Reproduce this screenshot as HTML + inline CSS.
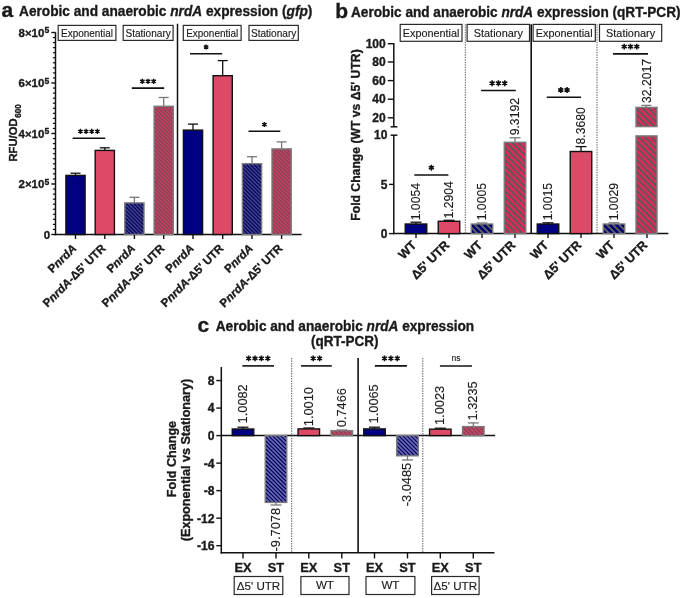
<!DOCTYPE html><html><head><meta charset="utf-8"><style>html,body{margin:0;padding:0;background:#fff;}svg{display:block;font-family:"Liberation Sans",sans-serif;} text{filter:grayscale(1);} text[font-weight=bold]{stroke:#1a1a1a;stroke-width:0.35;} text[font-weight=normal],text:not([font-weight]){stroke:#1a1a1a;stroke-width:0.15;}</style></head><body>
<svg width="685" height="598" viewBox="0 0 685 598">
<defs>
<pattern id="hnA" patternUnits="userSpaceOnUse" width="1.85" height="1.85" patternTransform="rotate(-45)"><rect width="1.85" height="1.85" fill="#00005c"/><rect x="0" y="0" width="0.85" height="1.85" fill="#55558f"/></pattern>
<pattern id="hpA" patternUnits="userSpaceOnUse" width="1.85" height="1.85" patternTransform="rotate(-45)"><rect width="1.85" height="1.85" fill="#D04666"/><rect x="0" y="0" width="0.85" height="1.85" fill="#9a3855"/></pattern>
<pattern id="hnB" patternUnits="userSpaceOnUse" width="4.4" height="4.4" patternTransform="rotate(-45)"><rect width="4.4" height="4.4" fill="#000080"/><rect x="0" y="0" width="1.7" height="4.4" fill="#6e6e6e"/></pattern>
<pattern id="hpB" patternUnits="userSpaceOnUse" width="4.4" height="4.4" patternTransform="rotate(-45)"><rect width="4.4" height="4.4" fill="#DA2C58"/><rect x="0" y="0" width="1.7" height="4.4" fill="#5e5e5e"/></pattern>
<pattern id="hnC" patternUnits="userSpaceOnUse" width="2.0" height="2.0" patternTransform="rotate(-45)"><rect width="2.0" height="2.0" fill="#00005c"/><rect x="0" y="0" width="0.9" height="2.0" fill="#6a6ab0"/></pattern>
<pattern id="hpC" patternUnits="userSpaceOnUse" width="1.85" height="1.85" patternTransform="rotate(-45)"><rect width="1.85" height="1.85" fill="#D04666"/><rect x="0" y="0" width="0.85" height="1.85" fill="#9a3855"/></pattern>
</defs>
<rect width="685" height="598" fill="#fff"/>
<text x="1.5" y="17.2" font-size="21" font-weight="bold" text-anchor="start" fill="#1a1a1a" >a</text>
<text x="19" y="16.4" font-size="14.6" font-weight="bold" fill="#1a1a1a" textLength="293.4" lengthAdjust="spacingAndGlyphs">Aerobic and anaerobic <tspan font-style="italic">nrdA</tspan> expression (<tspan font-style="italic">gfp</tspan>)</text>
<line x1="55.5" y1="32.3" x2="55.5" y2="235.25" stroke="#111" stroke-width="1.5" />
<line x1="54.75" y1="234.5" x2="301.6" y2="234.5" stroke="#111" stroke-width="1.5" />
<line x1="51.3" y1="234.5" x2="55.5" y2="234.5" stroke="#111" stroke-width="1.4" />
<line x1="52.9" y1="229.45" x2="55.5" y2="229.45" stroke="#111" stroke-width="1.2" />
<line x1="52.9" y1="224.4" x2="55.5" y2="224.4" stroke="#111" stroke-width="1.2" />
<line x1="52.9" y1="219.35" x2="55.5" y2="219.35" stroke="#111" stroke-width="1.2" />
<line x1="52.9" y1="214.3" x2="55.5" y2="214.3" stroke="#111" stroke-width="1.2" />
<line x1="52.9" y1="209.25" x2="55.5" y2="209.25" stroke="#111" stroke-width="1.2" />
<line x1="52.9" y1="204.2" x2="55.5" y2="204.2" stroke="#111" stroke-width="1.2" />
<line x1="52.9" y1="199.15" x2="55.5" y2="199.15" stroke="#111" stroke-width="1.2" />
<line x1="52.9" y1="194.1" x2="55.5" y2="194.1" stroke="#111" stroke-width="1.2" />
<line x1="52.9" y1="189.05" x2="55.5" y2="189.05" stroke="#111" stroke-width="1.2" />
<line x1="51.3" y1="184.0" x2="55.5" y2="184.0" stroke="#111" stroke-width="1.4" />
<line x1="52.9" y1="178.95" x2="55.5" y2="178.95" stroke="#111" stroke-width="1.2" />
<line x1="52.9" y1="173.9" x2="55.5" y2="173.9" stroke="#111" stroke-width="1.2" />
<line x1="52.9" y1="168.85" x2="55.5" y2="168.85" stroke="#111" stroke-width="1.2" />
<line x1="52.9" y1="163.8" x2="55.5" y2="163.8" stroke="#111" stroke-width="1.2" />
<line x1="52.9" y1="158.75" x2="55.5" y2="158.75" stroke="#111" stroke-width="1.2" />
<line x1="52.9" y1="153.7" x2="55.5" y2="153.7" stroke="#111" stroke-width="1.2" />
<line x1="52.9" y1="148.65" x2="55.5" y2="148.65" stroke="#111" stroke-width="1.2" />
<line x1="52.9" y1="143.6" x2="55.5" y2="143.6" stroke="#111" stroke-width="1.2" />
<line x1="52.9" y1="138.55" x2="55.5" y2="138.55" stroke="#111" stroke-width="1.2" />
<line x1="51.3" y1="133.5" x2="55.5" y2="133.5" stroke="#111" stroke-width="1.4" />
<line x1="52.9" y1="128.45" x2="55.5" y2="128.45" stroke="#111" stroke-width="1.2" />
<line x1="52.9" y1="123.4" x2="55.5" y2="123.4" stroke="#111" stroke-width="1.2" />
<line x1="52.9" y1="118.35" x2="55.5" y2="118.35" stroke="#111" stroke-width="1.2" />
<line x1="52.9" y1="113.3" x2="55.5" y2="113.3" stroke="#111" stroke-width="1.2" />
<line x1="52.9" y1="108.25" x2="55.5" y2="108.25" stroke="#111" stroke-width="1.2" />
<line x1="52.9" y1="103.19999999999999" x2="55.5" y2="103.19999999999999" stroke="#111" stroke-width="1.2" />
<line x1="52.9" y1="98.15" x2="55.5" y2="98.15" stroke="#111" stroke-width="1.2" />
<line x1="52.9" y1="93.1" x2="55.5" y2="93.1" stroke="#111" stroke-width="1.2" />
<line x1="52.9" y1="88.05000000000001" x2="55.5" y2="88.05000000000001" stroke="#111" stroke-width="1.2" />
<line x1="51.3" y1="83.0" x2="55.5" y2="83.0" stroke="#111" stroke-width="1.4" />
<line x1="52.9" y1="77.94999999999999" x2="55.5" y2="77.94999999999999" stroke="#111" stroke-width="1.2" />
<line x1="52.9" y1="72.9" x2="55.5" y2="72.9" stroke="#111" stroke-width="1.2" />
<line x1="52.9" y1="67.85" x2="55.5" y2="67.85" stroke="#111" stroke-width="1.2" />
<line x1="52.9" y1="62.80000000000001" x2="55.5" y2="62.80000000000001" stroke="#111" stroke-width="1.2" />
<line x1="52.9" y1="57.75" x2="55.5" y2="57.75" stroke="#111" stroke-width="1.2" />
<line x1="52.9" y1="52.69999999999999" x2="55.5" y2="52.69999999999999" stroke="#111" stroke-width="1.2" />
<line x1="52.9" y1="47.650000000000006" x2="55.5" y2="47.650000000000006" stroke="#111" stroke-width="1.2" />
<line x1="52.9" y1="42.599999999999994" x2="55.5" y2="42.599999999999994" stroke="#111" stroke-width="1.2" />
<line x1="52.9" y1="37.55000000000001" x2="55.5" y2="37.55000000000001" stroke="#111" stroke-width="1.2" />
<line x1="51.3" y1="32.5" x2="55.5" y2="32.5" stroke="#111" stroke-width="1.4" />
<text x="50.2" y="238.8" font-size="11.5" font-weight="bold" text-anchor="end" fill="#1a1a1a" >0</text>
<text x="18.6" y="188.4" font-size="11.5" font-weight="bold" text-anchor="start" fill="#1a1a1a" textLength="25.7" lengthAdjust="spacingAndGlyphs">2×10</text>
<text x="44.6" y="184.6" font-size="8.6" font-weight="bold" text-anchor="start" fill="#1a1a1a" >5</text>
<text x="18.6" y="137.9" font-size="11.5" font-weight="bold" text-anchor="start" fill="#1a1a1a" textLength="25.7" lengthAdjust="spacingAndGlyphs">4×10</text>
<text x="44.6" y="134.1" font-size="8.6" font-weight="bold" text-anchor="start" fill="#1a1a1a" >5</text>
<text x="18.6" y="87.4" font-size="11.5" font-weight="bold" text-anchor="start" fill="#1a1a1a" textLength="25.7" lengthAdjust="spacingAndGlyphs">6×10</text>
<text x="44.6" y="83.6" font-size="8.6" font-weight="bold" text-anchor="start" fill="#1a1a1a" >5</text>
<text x="18.6" y="36.9" font-size="11.5" font-weight="bold" text-anchor="start" fill="#1a1a1a" textLength="25.7" lengthAdjust="spacingAndGlyphs">8×10</text>
<text x="44.6" y="33.1" font-size="8.6" font-weight="bold" text-anchor="start" fill="#1a1a1a" >5</text>
<text x="16.9" y="161.5" font-size="10.9" font-weight="bold" fill="#1a1a1a" transform="rotate(-90 16.9 161.5)" textLength="43.0" lengthAdjust="spacingAndGlyphs">RFU/OD</text>
<text x="20.6" y="117.8" font-size="9" font-weight="bold" fill="#1a1a1a" transform="rotate(-90 20.6 117.8)" textLength="13.6" lengthAdjust="spacingAndGlyphs">600</text>
<line x1="75.5" y1="234.5" x2="75.5" y2="239.0" stroke="#111" stroke-width="1.4" />
<line x1="104.8" y1="234.5" x2="104.8" y2="239.0" stroke="#111" stroke-width="1.4" />
<line x1="134.4" y1="234.5" x2="134.4" y2="239.0" stroke="#111" stroke-width="1.4" />
<line x1="163.7" y1="234.5" x2="163.7" y2="239.0" stroke="#111" stroke-width="1.4" />
<line x1="193" y1="234.5" x2="193" y2="239.0" stroke="#111" stroke-width="1.4" />
<line x1="222.7" y1="234.5" x2="222.7" y2="239.0" stroke="#111" stroke-width="1.4" />
<line x1="252" y1="234.5" x2="252" y2="239.0" stroke="#111" stroke-width="1.4" />
<line x1="281.6" y1="234.5" x2="281.6" y2="239.0" stroke="#111" stroke-width="1.4" />
<line x1="75.5" y1="175.4" x2="75.5" y2="173.2" stroke="#111" stroke-width="1.3" />
<line x1="70.5" y1="173.2" x2="80.5" y2="173.2" stroke="#111" stroke-width="1.3" />
<rect x="65.9" y="175.4" width="19.2" height="59.099999999999994" fill="#000080" stroke="#111" stroke-width="1.4"/>
<line x1="104.8" y1="150.4" x2="104.8" y2="147.8" stroke="#111" stroke-width="1.3" />
<line x1="99.8" y1="147.8" x2="109.8" y2="147.8" stroke="#111" stroke-width="1.3" />
<rect x="95.2" y="150.4" width="19.2" height="84.1" fill="#DD4A68" stroke="#111" stroke-width="1.4"/>
<line x1="134.4" y1="202.9" x2="134.4" y2="197.3" stroke="#777" stroke-width="1.3" />
<line x1="129.4" y1="197.3" x2="139.4" y2="197.3" stroke="#777" stroke-width="1.3" />
<clipPath id="cl1"><rect x="124.80000000000001" y="202.9" width="19.2" height="31.599999999999994"/></clipPath>
<rect x="124.80000000000001" y="202.9" width="19.2" height="31.599999999999994" fill="#00005c"/>
<path d="M89.40 202.90L121.00 234.50M93.20 202.90L124.80 234.50M97.00 202.90L128.60 234.50M100.80 202.90L132.40 234.50M104.60 202.90L136.20 234.50M108.40 202.90L140.00 234.50M112.20 202.90L143.80 234.50M116.00 202.90L147.60 234.50M119.80 202.90L151.40 234.50M123.60 202.90L155.20 234.50M127.40 202.90L159.00 234.50M131.20 202.90L162.80 234.50M135.00 202.90L166.60 234.50M138.80 202.90L170.40 234.50M142.60 202.90L174.20 234.50M146.40 202.90L178.00 234.50" stroke="#3e3e86" stroke-width="1.6" clip-path="url(#cl1)"/>
<rect x="124.80000000000001" y="202.9" width="19.2" height="31.599999999999994" fill="none" stroke="#7a7a7a" stroke-width="1.4"/>
<line x1="163.7" y1="106.3" x2="163.7" y2="97.5" stroke="#777" stroke-width="1.3" />
<line x1="158.7" y1="97.5" x2="168.7" y2="97.5" stroke="#777" stroke-width="1.3" />
<clipPath id="cl2"><rect x="154.1" y="106.3" width="19.2" height="128.2"/></clipPath>
<rect x="154.1" y="106.3" width="19.2" height="128.2" fill="#CB4464"/>
<path d="M22.05 106.30L150.25 234.50M25.90 106.30L154.10 234.50M29.75 106.30L157.95 234.50M33.60 106.30L161.80 234.50M37.45 106.30L165.65 234.50M41.30 106.30L169.50 234.50M45.15 106.30L173.35 234.50M49.00 106.30L177.20 234.50M52.85 106.30L181.05 234.50M56.70 106.30L184.90 234.50M60.55 106.30L188.75 234.50M64.40 106.30L192.60 234.50M68.25 106.30L196.45 234.50M72.10 106.30L200.30 234.50M75.95 106.30L204.15 234.50M79.80 106.30L208.00 234.50M83.65 106.30L211.85 234.50M87.50 106.30L215.70 234.50M91.35 106.30L219.55 234.50M95.20 106.30L223.40 234.50M99.05 106.30L227.25 234.50M102.90 106.30L231.10 234.50M106.75 106.30L234.95 234.50M110.60 106.30L238.80 234.50M114.45 106.30L242.65 234.50M118.30 106.30L246.50 234.50M122.15 106.30L250.35 234.50M126.00 106.30L254.20 234.50M129.85 106.30L258.05 234.50M133.70 106.30L261.90 234.50M137.55 106.30L265.75 234.50M141.40 106.30L269.60 234.50M145.25 106.30L273.45 234.50M149.10 106.30L277.30 234.50M152.95 106.30L281.15 234.50M156.80 106.30L285.00 234.50M160.65 106.30L288.85 234.50M164.50 106.30L292.70 234.50M168.35 106.30L296.55 234.50M172.20 106.30L300.40 234.50M176.05 106.30L304.25 234.50" stroke="#8c4256" stroke-width="1.6" clip-path="url(#cl2)"/>
<rect x="154.1" y="106.3" width="19.2" height="128.2" fill="none" stroke="#7a7a7a" stroke-width="1.4"/>
<line x1="193" y1="130.1" x2="193" y2="124.1" stroke="#111" stroke-width="1.3" />
<line x1="188.0" y1="124.1" x2="198.0" y2="124.1" stroke="#111" stroke-width="1.3" />
<rect x="183.4" y="130.1" width="19.2" height="104.4" fill="#000080" stroke="#111" stroke-width="1.4"/>
<line x1="222.7" y1="75.7" x2="222.7" y2="60.6" stroke="#111" stroke-width="1.3" />
<line x1="217.7" y1="60.6" x2="227.7" y2="60.6" stroke="#111" stroke-width="1.3" />
<rect x="213.1" y="75.7" width="19.2" height="158.8" fill="#DD4A68" stroke="#111" stroke-width="1.4"/>
<line x1="252" y1="163.7" x2="252" y2="156.7" stroke="#777" stroke-width="1.3" />
<line x1="247.0" y1="156.7" x2="257.0" y2="156.7" stroke="#777" stroke-width="1.3" />
<clipPath id="cl3"><rect x="242.4" y="163.7" width="19.2" height="70.80000000000001"/></clipPath>
<rect x="242.4" y="163.7" width="19.2" height="70.80000000000001" fill="#00005c"/>
<path d="M167.80 163.70L238.60 234.50M171.60 163.70L242.40 234.50M175.40 163.70L246.20 234.50M179.20 163.70L250.00 234.50M183.00 163.70L253.80 234.50M186.80 163.70L257.60 234.50M190.60 163.70L261.40 234.50M194.40 163.70L265.20 234.50M198.20 163.70L269.00 234.50M202.00 163.70L272.80 234.50M205.80 163.70L276.60 234.50M209.60 163.70L280.40 234.50M213.40 163.70L284.20 234.50M217.20 163.70L288.00 234.50M221.00 163.70L291.80 234.50M224.80 163.70L295.60 234.50M228.60 163.70L299.40 234.50M232.40 163.70L303.20 234.50M236.20 163.70L307.00 234.50M240.00 163.70L310.80 234.50M243.80 163.70L314.60 234.50M247.60 163.70L318.40 234.50M251.40 163.70L322.20 234.50M255.20 163.70L326.00 234.50M259.00 163.70L329.80 234.50M262.80 163.70L333.60 234.50" stroke="#3e3e86" stroke-width="1.6" clip-path="url(#cl3)"/>
<rect x="242.4" y="163.7" width="19.2" height="70.80000000000001" fill="none" stroke="#7a7a7a" stroke-width="1.4"/>
<line x1="281.6" y1="148.9" x2="281.6" y2="141.9" stroke="#777" stroke-width="1.3" />
<line x1="276.6" y1="141.9" x2="286.6" y2="141.9" stroke="#777" stroke-width="1.3" />
<clipPath id="cl4"><rect x="272.0" y="148.9" width="19.2" height="85.6"/></clipPath>
<rect x="272.0" y="148.9" width="19.2" height="85.6" fill="#CB4464"/>
<path d="M182.55 148.90L268.15 234.50M186.40 148.90L272.00 234.50M190.25 148.90L275.85 234.50M194.10 148.90L279.70 234.50M197.95 148.90L283.55 234.50M201.80 148.90L287.40 234.50M205.65 148.90L291.25 234.50M209.50 148.90L295.10 234.50M213.35 148.90L298.95 234.50M217.20 148.90L302.80 234.50M221.05 148.90L306.65 234.50M224.90 148.90L310.50 234.50M228.75 148.90L314.35 234.50M232.60 148.90L318.20 234.50M236.45 148.90L322.05 234.50M240.30 148.90L325.90 234.50M244.15 148.90L329.75 234.50M248.00 148.90L333.60 234.50M251.85 148.90L337.45 234.50M255.70 148.90L341.30 234.50M259.55 148.90L345.15 234.50M263.40 148.90L349.00 234.50M267.25 148.90L352.85 234.50M271.10 148.90L356.70 234.50M274.95 148.90L360.55 234.50M278.80 148.90L364.40 234.50M282.65 148.90L368.25 234.50M286.50 148.90L372.10 234.50M290.35 148.90L375.95 234.50M294.20 148.90L379.80 234.50" stroke="#8c4256" stroke-width="1.6" clip-path="url(#cl4)"/>
<rect x="272.0" y="148.9" width="19.2" height="85.6" fill="none" stroke="#7a7a7a" stroke-width="1.4"/>
<line x1="177.5" y1="23.8" x2="177.5" y2="234.5" stroke="#111" stroke-width="1.5" />
<rect x="58.2" y="25.4" width="57.7" height="15.0" fill="#fff" stroke="#2a2a2a" stroke-width="1.2"/>
<text x="87.05000000000001" y="36.8" font-size="10.8" font-weight="normal" text-anchor="middle" fill="#1a1a1a" textLength="52.1" lengthAdjust="spacingAndGlyphs">Exponential</text>
<rect x="123.2" y="25.4" width="49.89999999999999" height="15.0" fill="#fff" stroke="#2a2a2a" stroke-width="1.2"/>
<text x="148.15" y="36.8" font-size="10.8" font-weight="normal" text-anchor="middle" fill="#1a1a1a" textLength="45.5" lengthAdjust="spacingAndGlyphs">Stationary</text>
<rect x="183.3" y="25.4" width="57.79999999999998" height="15.0" fill="#fff" stroke="#2a2a2a" stroke-width="1.2"/>
<text x="212.2" y="36.8" font-size="10.8" font-weight="normal" text-anchor="middle" fill="#1a1a1a" textLength="52.1" lengthAdjust="spacingAndGlyphs">Exponential</text>
<rect x="249" y="25.4" width="49.30000000000001" height="15.0" fill="#fff" stroke="#2a2a2a" stroke-width="1.2"/>
<text x="273.65" y="36.8" font-size="10.8" font-weight="normal" text-anchor="middle" fill="#1a1a1a" textLength="45.5" lengthAdjust="spacingAndGlyphs">Stationary</text>
<line x1="72.6" y1="138.2" x2="105.2" y2="138.2" stroke="#111" stroke-width="1.6" />
<path d="M80.43 128.80L80.43 134.00M82.68 130.10L78.17 132.70M82.68 132.70L78.17 130.10" stroke="#111" stroke-width="1.45" stroke-linecap="butt" fill="none"/><circle cx="80.43" cy="131.40" r="1.15" fill="#111"/>
<path d="M86.08 128.80L86.08 134.00M88.33 130.10L83.82 132.70M88.33 132.70L83.82 130.10" stroke="#111" stroke-width="1.45" stroke-linecap="butt" fill="none"/><circle cx="86.08" cy="131.40" r="1.15" fill="#111"/>
<path d="M91.73 128.80L91.73 134.00M93.98 130.10L89.47 132.70M93.98 132.70L89.47 130.10" stroke="#111" stroke-width="1.45" stroke-linecap="butt" fill="none"/><circle cx="91.73" cy="131.40" r="1.15" fill="#111"/>
<path d="M97.38 128.80L97.38 134.00M99.63 130.10L95.12 132.70M99.63 132.70L95.12 130.10" stroke="#111" stroke-width="1.45" stroke-linecap="butt" fill="none"/><circle cx="97.38" cy="131.40" r="1.15" fill="#111"/>
<line x1="131.8" y1="88.1" x2="164.2" y2="88.1" stroke="#111" stroke-width="1.6" />
<path d="M142.35 78.70L142.35 83.90M144.60 80.00L140.10 82.60M144.60 82.60L140.10 80.00" stroke="#111" stroke-width="1.45" stroke-linecap="butt" fill="none"/><circle cx="142.35" cy="81.30" r="1.15" fill="#111"/>
<path d="M148.00 78.70L148.00 83.90M150.25 80.00L145.75 82.60M150.25 82.60L145.75 80.00" stroke="#111" stroke-width="1.45" stroke-linecap="butt" fill="none"/><circle cx="148.00" cy="81.30" r="1.15" fill="#111"/>
<path d="M153.65 78.70L153.65 83.90M155.90 80.00L151.40 82.60M155.90 82.60L151.40 80.00" stroke="#111" stroke-width="1.45" stroke-linecap="butt" fill="none"/><circle cx="153.65" cy="81.30" r="1.15" fill="#111"/>
<line x1="190" y1="53.8" x2="222.2" y2="53.8" stroke="#111" stroke-width="1.6" />
<path d="M206.10 44.40L206.10 49.60M208.35 45.70L203.85 48.30M208.35 48.30L203.85 45.70" stroke="#111" stroke-width="1.45" stroke-linecap="butt" fill="none"/><circle cx="206.10" cy="47.00" r="1.15" fill="#111"/>
<line x1="248.5" y1="131.3" x2="280.3" y2="131.3" stroke="#111" stroke-width="1.6" />
<path d="M264.40 121.90L264.40 127.10M266.65 123.20L262.15 125.80M266.65 125.80L262.15 123.20" stroke="#111" stroke-width="1.45" stroke-linecap="butt" fill="none"/><circle cx="264.40" cy="124.50" r="1.15" fill="#111"/>
<text x="77.1" y="249.0" font-size="11.6" font-weight="bold" fill="#1a1a1a" text-anchor="end" transform="rotate(-45 77.1 249.0)">P<tspan font-style="italic">nrdA</tspan></text>
<text x="106.39999999999999" y="249.0" font-size="11.6" font-weight="bold" fill="#1a1a1a" text-anchor="end" transform="rotate(-45 106.39999999999999 249.0)">P<tspan font-style="italic">nrdA</tspan>-Δ5' UTR</text>
<text x="136.0" y="249.0" font-size="11.6" font-weight="bold" fill="#1a1a1a" text-anchor="end" transform="rotate(-45 136.0 249.0)">P<tspan font-style="italic">nrdA</tspan></text>
<text x="165.29999999999998" y="249.0" font-size="11.6" font-weight="bold" fill="#1a1a1a" text-anchor="end" transform="rotate(-45 165.29999999999998 249.0)">P<tspan font-style="italic">nrdA</tspan>-Δ5' UTR</text>
<text x="194.6" y="249.0" font-size="11.6" font-weight="bold" fill="#1a1a1a" text-anchor="end" transform="rotate(-45 194.6 249.0)">P<tspan font-style="italic">nrdA</tspan></text>
<text x="224.29999999999998" y="249.0" font-size="11.6" font-weight="bold" fill="#1a1a1a" text-anchor="end" transform="rotate(-45 224.29999999999998 249.0)">P<tspan font-style="italic">nrdA</tspan>-Δ5' UTR</text>
<text x="253.6" y="249.0" font-size="11.6" font-weight="bold" fill="#1a1a1a" text-anchor="end" transform="rotate(-45 253.6 249.0)">P<tspan font-style="italic">nrdA</tspan></text>
<text x="283.20000000000005" y="249.0" font-size="11.6" font-weight="bold" fill="#1a1a1a" text-anchor="end" transform="rotate(-45 283.20000000000005 249.0)">P<tspan font-style="italic">nrdA</tspan>-Δ5' UTR</text>
<text x="335.3" y="17.5" font-size="21" font-weight="bold" text-anchor="start" fill="#1a1a1a" >b</text>
<text x="351" y="16.6" font-size="14.3" font-weight="bold" fill="#1a1a1a" textLength="329.5" lengthAdjust="spacingAndGlyphs">Aerobic and anaerobic <tspan font-style="italic">nrdA</tspan> expression (qRT-PCR)</text>
<line x1="393.8" y1="43.0" x2="393.8" y2="126.8" stroke="#111" stroke-width="1.5" />
<line x1="390.6" y1="126.8" x2="397.40000000000003" y2="126.8" stroke="#111" stroke-width="1.5" />
<line x1="393.8" y1="135.2" x2="393.8" y2="234.35" stroke="#111" stroke-width="1.5" />
<line x1="390.6" y1="135.2" x2="397.40000000000003" y2="135.2" stroke="#111" stroke-width="1.5" />
<line x1="393.05" y1="233.6" x2="668.4" y2="233.6" stroke="#111" stroke-width="1.5" />
<line x1="387.8" y1="43.7" x2="393.8" y2="43.7" stroke="#111" stroke-width="1.4" />
<text x="385.7" y="47.6" font-size="12" font-weight="bold" text-anchor="end" fill="#1a1a1a" >100</text>
<line x1="387.8" y1="62" x2="393.8" y2="62" stroke="#111" stroke-width="1.4" />
<text x="385.7" y="65.9" font-size="12" font-weight="bold" text-anchor="end" fill="#1a1a1a" >80</text>
<line x1="387.8" y1="80.6" x2="393.8" y2="80.6" stroke="#111" stroke-width="1.4" />
<text x="385.7" y="84.5" font-size="12" font-weight="bold" text-anchor="end" fill="#1a1a1a" >60</text>
<line x1="387.8" y1="99.2" x2="393.8" y2="99.2" stroke="#111" stroke-width="1.4" />
<text x="385.7" y="103.10000000000001" font-size="12" font-weight="bold" text-anchor="end" fill="#1a1a1a" >40</text>
<line x1="387.8" y1="117.8" x2="393.8" y2="117.8" stroke="#111" stroke-width="1.4" />
<text x="385.7" y="121.7" font-size="12" font-weight="bold" text-anchor="end" fill="#1a1a1a" >20</text>
<text x="387.4" y="139.39999999999998" font-size="12" font-weight="bold" text-anchor="end" fill="#1a1a1a" >10</text>
<line x1="389.1" y1="184.4" x2="393.8" y2="184.4" stroke="#111" stroke-width="1.4" />
<text x="387.4" y="188.6" font-size="12" font-weight="bold" text-anchor="end" fill="#1a1a1a" >5</text>
<line x1="389.1" y1="233.6" x2="393.8" y2="233.6" stroke="#111" stroke-width="1.4" />
<text x="387.4" y="237.79999999999998" font-size="12" font-weight="bold" text-anchor="end" fill="#1a1a1a" >0</text>
<text x="360.2" y="135" font-size="12.2" font-weight="bold" fill="#1a1a1a" text-anchor="middle" transform="rotate(-90 360.2 135)">Fold Change (WT vs Δ5' UTR)</text>
<line x1="416" y1="233.6" x2="416" y2="238.1" stroke="#111" stroke-width="1.4" />
<line x1="449" y1="233.6" x2="449" y2="238.1" stroke="#111" stroke-width="1.4" />
<line x1="482" y1="233.6" x2="482" y2="238.1" stroke="#111" stroke-width="1.4" />
<line x1="515" y1="233.6" x2="515" y2="238.1" stroke="#111" stroke-width="1.4" />
<line x1="548" y1="233.6" x2="548" y2="238.1" stroke="#111" stroke-width="1.4" />
<line x1="581" y1="233.6" x2="581" y2="238.1" stroke="#111" stroke-width="1.4" />
<line x1="614" y1="233.6" x2="614" y2="238.1" stroke="#111" stroke-width="1.4" />
<line x1="647" y1="233.6" x2="647" y2="238.1" stroke="#111" stroke-width="1.4" />
<line x1="465.3" y1="24.3" x2="465.3" y2="233.6" stroke="#5a5a5a" stroke-width="1.0" stroke-dasharray="1.4 1.1"/>
<line x1="531.2" y1="24.3" x2="531.2" y2="233.6" stroke="#111" stroke-width="1.6" />
<line x1="597.0" y1="24.3" x2="597.0" y2="233.6" stroke="#5a5a5a" stroke-width="1.0" stroke-dasharray="1.4 1.1"/>
<line x1="416" y1="224" x2="416" y2="222.2" stroke="#111" stroke-width="1.3" />
<line x1="410.5" y1="222.2" x2="421.5" y2="222.2" stroke="#111" stroke-width="1.3" />
<rect x="405.25" y="224" width="21.5" height="9.599999999999994" fill="#000080" stroke="#111" stroke-width="1.4"/>
<line x1="449" y1="221.3" x2="449" y2="220.3" stroke="#111" stroke-width="1.3" />
<line x1="443.5" y1="220.3" x2="454.5" y2="220.3" stroke="#111" stroke-width="1.3" />
<rect x="438.25" y="221.3" width="21.5" height="12.299999999999983" fill="#DD4A68" stroke="#111" stroke-width="1.4"/>
<line x1="482" y1="224" x2="482" y2="223" stroke="#777" stroke-width="1.3" />
<line x1="476.5" y1="223" x2="487.5" y2="223" stroke="#777" stroke-width="1.3" />
<clipPath id="cl5"><rect x="471.25" y="224" width="21.5" height="9.599999999999994"/></clipPath>
<rect x="471.25" y="224" width="21.5" height="9.599999999999994" fill="#000070"/>
<path d="M455.45 224.00L465.05 233.60M461.65 224.00L471.25 233.60M467.85 224.00L477.45 233.60M474.05 224.00L483.65 233.60M480.25 224.00L489.85 233.60M486.45 224.00L496.05 233.60M492.65 224.00L502.25 233.60M498.85 224.00L508.45 233.60" stroke="#626262" stroke-width="1.85" clip-path="url(#cl5)"/>
<rect x="471.25" y="224" width="21.5" height="9.599999999999994" fill="none" stroke="#7a7a7a" stroke-width="1.4"/>
<line x1="515" y1="142.3" x2="515" y2="137.8" stroke="#777" stroke-width="1.3" />
<line x1="509.5" y1="137.8" x2="520.5" y2="137.8" stroke="#777" stroke-width="1.3" />
<clipPath id="cl6"><rect x="504.25" y="142.3" width="21.5" height="91.29999999999998"/></clipPath>
<rect x="504.25" y="142.3" width="21.5" height="91.29999999999998" fill="#DA2C58"/>
<path d="M406.75 142.30L498.05 233.60M412.95 142.30L504.25 233.60M419.15 142.30L510.45 233.60M425.35 142.30L516.65 233.60M431.55 142.30L522.85 233.60M437.75 142.30L529.05 233.60M443.95 142.30L535.25 233.60M450.15 142.30L541.45 233.60M456.35 142.30L547.65 233.60M462.55 142.30L553.85 233.60M468.75 142.30L560.05 233.60M474.95 142.30L566.25 233.60M481.15 142.30L572.45 233.60M487.35 142.30L578.65 233.60M493.55 142.30L584.85 233.60M499.75 142.30L591.05 233.60M505.95 142.30L597.25 233.60M512.15 142.30L603.45 233.60M518.35 142.30L609.65 233.60M524.55 142.30L615.85 233.60M530.75 142.30L622.05 233.60" stroke="#5a5a5a" stroke-width="1.85" clip-path="url(#cl6)"/>
<rect x="504.25" y="142.3" width="21.5" height="91.29999999999998" fill="none" stroke="#7a7a7a" stroke-width="1.4"/>
<line x1="548" y1="224" x2="548" y2="222.8" stroke="#111" stroke-width="1.3" />
<line x1="542.5" y1="222.8" x2="553.5" y2="222.8" stroke="#111" stroke-width="1.3" />
<rect x="537.25" y="224" width="21.5" height="9.599999999999994" fill="#000080" stroke="#111" stroke-width="1.4"/>
<line x1="581" y1="151.5" x2="581" y2="146.6" stroke="#111" stroke-width="1.3" />
<line x1="575.5" y1="146.6" x2="586.5" y2="146.6" stroke="#111" stroke-width="1.3" />
<rect x="570.25" y="151.5" width="21.5" height="82.1" fill="#DD4A68" stroke="#111" stroke-width="1.4"/>
<line x1="614" y1="224" x2="614" y2="222.8" stroke="#777" stroke-width="1.3" />
<line x1="608.5" y1="222.8" x2="619.5" y2="222.8" stroke="#777" stroke-width="1.3" />
<clipPath id="cl7"><rect x="603.25" y="224" width="21.5" height="9.599999999999994"/></clipPath>
<rect x="603.25" y="224" width="21.5" height="9.599999999999994" fill="#000070"/>
<path d="M587.45 224.00L597.05 233.60M593.65 224.00L603.25 233.60M599.85 224.00L609.45 233.60M606.05 224.00L615.65 233.60M612.25 224.00L621.85 233.60M618.45 224.00L628.05 233.60M624.65 224.00L634.25 233.60M630.85 224.00L640.45 233.60" stroke="#626262" stroke-width="1.85" clip-path="url(#cl7)"/>
<rect x="603.25" y="224" width="21.5" height="9.599999999999994" fill="none" stroke="#7a7a7a" stroke-width="1.4"/>
<line x1="646.4" y1="107.4" x2="646.4" y2="105.4" stroke="#777" stroke-width="1.3" />
<line x1="641.4" y1="105.4" x2="651.4" y2="105.4" stroke="#777" stroke-width="1.3" />
<clipPath id="cl8"><rect x="636" y="107.4" width="21" height="19.2"/></clipPath>
<rect x="636" y="107.4" width="21" height="19.2" fill="#DA2C58"/>
<path d="M610.60 107.40L629.80 126.60M616.80 107.40L636.00 126.60M623.00 107.40L642.20 126.60M629.20 107.40L648.40 126.60M635.40 107.40L654.60 126.60M641.60 107.40L660.80 126.60M647.80 107.40L667.00 126.60M654.00 107.40L673.20 126.60M660.20 107.40L679.40 126.60" stroke="#5a5a5a" stroke-width="1.85" clip-path="url(#cl8)"/>
<rect x="636" y="107.4" width="21" height="19.2" fill="none" stroke="#7a7a7a" stroke-width="1.4"/>
<clipPath id="cl9"><rect x="636" y="135.9" width="21" height="97.69999999999999"/></clipPath>
<rect x="636" y="135.9" width="21" height="97.69999999999999" fill="#DA2C58"/>
<path d="M532.10 135.90L629.80 233.60M538.30 135.90L636.00 233.60M544.50 135.90L642.20 233.60M550.70 135.90L648.40 233.60M556.90 135.90L654.60 233.60M563.10 135.90L660.80 233.60M569.30 135.90L667.00 233.60M575.50 135.90L673.20 233.60M581.70 135.90L679.40 233.60M587.90 135.90L685.60 233.60M594.10 135.90L691.80 233.60M600.30 135.90L698.00 233.60M606.50 135.90L704.20 233.60M612.70 135.90L710.40 233.60M618.90 135.90L716.60 233.60M625.10 135.90L722.80 233.60M631.30 135.90L729.00 233.60M637.50 135.90L735.20 233.60M643.70 135.90L741.40 233.60M649.90 135.90L747.60 233.60M656.10 135.90L753.80 233.60M662.30 135.90L760.00 233.60" stroke="#5a5a5a" stroke-width="1.85" clip-path="url(#cl9)"/>
<rect x="636" y="135.9" width="21" height="97.69999999999999" fill="none" stroke="#7a7a7a" stroke-width="1.4"/>
<rect x="400.2" y="24.4" width="61.80000000000001" height="16.9" fill="#fff" stroke="#2a2a2a" stroke-width="1.2"/>
<text x="431.1" y="36.8" font-size="11.2" font-weight="normal" text-anchor="middle" fill="#1a1a1a" textLength="56.7" lengthAdjust="spacingAndGlyphs">Exponential</text>
<rect x="467.1" y="24.4" width="62.39999999999998" height="16.9" fill="#fff" stroke="#2a2a2a" stroke-width="1.2"/>
<text x="498.3" y="36.8" font-size="11.2" font-weight="normal" text-anchor="middle" fill="#1a1a1a" textLength="49.1" lengthAdjust="spacingAndGlyphs">Stationary</text>
<rect x="533.1" y="24.4" width="62.19999999999993" height="16.9" fill="#fff" stroke="#2a2a2a" stroke-width="1.2"/>
<text x="564.2" y="36.8" font-size="11.2" font-weight="normal" text-anchor="middle" fill="#1a1a1a" textLength="56.7" lengthAdjust="spacingAndGlyphs">Exponential</text>
<rect x="599.5" y="24.4" width="62.200000000000045" height="16.9" fill="#fff" stroke="#2a2a2a" stroke-width="1.2"/>
<text x="630.6" y="36.8" font-size="11.2" font-weight="normal" text-anchor="middle" fill="#1a1a1a" textLength="49.1" lengthAdjust="spacingAndGlyphs">Stationary</text>
<line x1="414.3" y1="175.0" x2="448.4" y2="175.0" stroke="#111" stroke-width="1.6" />
<path d="M431.35 164.75L431.35 170.65M433.90 166.22L428.80 169.17M433.90 169.17L428.80 166.22" stroke="#111" stroke-width="1.55" stroke-linecap="butt" fill="none"/><circle cx="431.35" cy="167.70" r="1.25" fill="#111"/>
<line x1="481.1" y1="90.5" x2="515.8" y2="90.5" stroke="#111" stroke-width="1.6" />
<path d="M492.15 80.25L492.15 86.15M494.70 81.73L489.60 84.67M494.70 84.67L489.60 81.73" stroke="#111" stroke-width="1.55" stroke-linecap="butt" fill="none"/><circle cx="492.15" cy="83.20" r="1.25" fill="#111"/>
<path d="M498.45 80.25L498.45 86.15M501.00 81.73L495.90 84.67M501.00 84.67L495.90 81.73" stroke="#111" stroke-width="1.55" stroke-linecap="butt" fill="none"/><circle cx="498.45" cy="83.20" r="1.25" fill="#111"/>
<path d="M504.75 80.25L504.75 86.15M507.30 81.73L502.20 84.67M507.30 84.67L502.20 81.73" stroke="#111" stroke-width="1.55" stroke-linecap="butt" fill="none"/><circle cx="504.75" cy="83.20" r="1.25" fill="#111"/>
<line x1="546.8" y1="97.3" x2="581" y2="97.3" stroke="#111" stroke-width="1.6" />
<path d="M560.75 87.05L560.75 92.95M563.30 88.53L558.20 91.47M563.30 91.47L558.20 88.53" stroke="#111" stroke-width="1.55" stroke-linecap="butt" fill="none"/><circle cx="560.75" cy="90.00" r="1.25" fill="#111"/>
<path d="M567.05 87.05L567.05 92.95M569.60 88.53L564.50 91.47M569.60 91.47L564.50 88.53" stroke="#111" stroke-width="1.55" stroke-linecap="butt" fill="none"/><circle cx="567.05" cy="90.00" r="1.25" fill="#111"/>
<line x1="613" y1="53.9" x2="648" y2="53.9" stroke="#111" stroke-width="1.6" />
<path d="M624.20 43.65L624.20 49.55M626.75 45.12L621.65 48.08M626.75 48.08L621.65 45.12" stroke="#111" stroke-width="1.55" stroke-linecap="butt" fill="none"/><circle cx="624.20" cy="46.60" r="1.25" fill="#111"/>
<path d="M630.50 43.65L630.50 49.55M633.05 45.12L627.95 48.08M633.05 48.08L627.95 45.12" stroke="#111" stroke-width="1.55" stroke-linecap="butt" fill="none"/><circle cx="630.50" cy="46.60" r="1.25" fill="#111"/>
<path d="M636.80 43.65L636.80 49.55M639.35 45.12L634.25 48.08M639.35 48.08L634.25 45.12" stroke="#111" stroke-width="1.55" stroke-linecap="butt" fill="none"/><circle cx="636.80" cy="46.60" r="1.25" fill="#111"/>
<text x="420.2" y="220.3" font-size="12.2" fill="#1a1a1a" transform="rotate(-90 420.2 220.3)">1.0054</text>
<text x="453.2" y="218.5" font-size="12.2" fill="#1a1a1a" transform="rotate(-90 453.2 218.5)">1.2904</text>
<text x="486.2" y="220.3" font-size="12.2" fill="#1a1a1a" transform="rotate(-90 486.2 220.3)">1.0005</text>
<text x="519.2" y="135.3" font-size="12.2" fill="#1a1a1a" transform="rotate(-90 519.2 135.3)">9.3192</text>
<text x="552.2" y="220.3" font-size="12.2" fill="#1a1a1a" transform="rotate(-90 552.2 220.3)">1.0015</text>
<text x="585.2" y="144.5" font-size="12.2" fill="#1a1a1a" transform="rotate(-90 585.2 144.5)">8.3680</text>
<text x="618.2" y="220.3" font-size="12.2" fill="#1a1a1a" transform="rotate(-90 618.2 220.3)">1.0029</text>
<text x="651.2" y="103" font-size="12.2" fill="#1a1a1a" transform="rotate(-90 651.2 103)">32.2017</text>
<text x="417.2" y="245.9" font-size="12.5" font-weight="bold" fill="#1a1a1a" text-anchor="end" transform="rotate(-45 417.2 245.9)">WT</text>
<text x="450.2" y="245.9" font-size="12.5" font-weight="bold" fill="#1a1a1a" text-anchor="end" transform="rotate(-45 450.2 245.9)">Δ5' UTR</text>
<text x="483.2" y="245.9" font-size="12.5" font-weight="bold" fill="#1a1a1a" text-anchor="end" transform="rotate(-45 483.2 245.9)">WT</text>
<text x="516.2" y="245.9" font-size="12.5" font-weight="bold" fill="#1a1a1a" text-anchor="end" transform="rotate(-45 516.2 245.9)">Δ5' UTR</text>
<text x="549.2" y="245.9" font-size="12.5" font-weight="bold" fill="#1a1a1a" text-anchor="end" transform="rotate(-45 549.2 245.9)">WT</text>
<text x="582.2" y="245.9" font-size="12.5" font-weight="bold" fill="#1a1a1a" text-anchor="end" transform="rotate(-45 582.2 245.9)">Δ5' UTR</text>
<text x="615.2" y="245.9" font-size="12.5" font-weight="bold" fill="#1a1a1a" text-anchor="end" transform="rotate(-45 615.2 245.9)">WT</text>
<text x="648.2" y="245.9" font-size="12.5" font-weight="bold" fill="#1a1a1a" text-anchor="end" transform="rotate(-45 648.2 245.9)">Δ5' UTR</text>
<text x="197.5" y="332.2" font-size="21" font-weight="bold" text-anchor="start" fill="#1a1a1a" >c</text>
<text x="215.7" y="331" font-size="14.3" font-weight="bold" fill="#1a1a1a" textLength="258.5" lengthAdjust="spacingAndGlyphs">Aerobic and anaerobic <tspan font-style="italic">nrdA</tspan> expression</text>
<text x="311" y="345.8" font-size="14.3" font-weight="bold" fill="#1a1a1a" textLength="67.4" lengthAdjust="spacingAndGlyphs">(qRT-PCR)</text>
<line x1="221.3" y1="367.0" x2="221.3" y2="553.55" stroke="#111" stroke-width="1.5" />
<line x1="220.55" y1="552.8" x2="494.5" y2="552.8" stroke="#111" stroke-width="1.5" />
<line x1="221.3" y1="435.6" x2="495.1" y2="435.6" stroke="#111" stroke-width="1.5" />
<line x1="216.3" y1="380.56" x2="221.3" y2="380.56" stroke="#111" stroke-width="1.4" />
<text x="214.6" y="384.96" font-size="12.2" font-weight="bold" text-anchor="end" fill="#1a1a1a" >8</text>
<line x1="216.3" y1="408.08000000000004" x2="221.3" y2="408.08000000000004" stroke="#111" stroke-width="1.4" />
<text x="214.6" y="412.48" font-size="12.2" font-weight="bold" text-anchor="end" fill="#1a1a1a" >4</text>
<line x1="216.3" y1="435.6" x2="221.3" y2="435.6" stroke="#111" stroke-width="1.4" />
<text x="214.6" y="440.0" font-size="12.2" font-weight="bold" text-anchor="end" fill="#1a1a1a" >0</text>
<line x1="216.3" y1="463.12" x2="221.3" y2="463.12" stroke="#111" stroke-width="1.4" />
<text x="214.6" y="467.52" font-size="12.2" font-weight="bold" text-anchor="end" fill="#1a1a1a" >-4</text>
<line x1="216.3" y1="490.64000000000004" x2="221.3" y2="490.64000000000004" stroke="#111" stroke-width="1.4" />
<text x="214.6" y="495.04" font-size="12.2" font-weight="bold" text-anchor="end" fill="#1a1a1a" >-8</text>
<line x1="216.3" y1="518.1600000000001" x2="221.3" y2="518.1600000000001" stroke="#111" stroke-width="1.4" />
<text x="214.6" y="522.5600000000001" font-size="12.2" font-weight="bold" text-anchor="end" fill="#1a1a1a" >-12</text>
<line x1="216.3" y1="545.6800000000001" x2="221.3" y2="545.6800000000001" stroke="#111" stroke-width="1.4" />
<text x="214.6" y="550.08" font-size="12.2" font-weight="bold" text-anchor="end" fill="#1a1a1a" >-16</text>
<text x="176.3" y="459" font-size="12.6" font-weight="bold" fill="#1a1a1a" text-anchor="middle" transform="rotate(-90 176.3 459)">Fold Change</text>
<text x="190.3" y="460" font-size="12.6" font-weight="bold" fill="#1a1a1a" text-anchor="middle" transform="rotate(-90 190.3 460)">(Exponential vs Stationary)</text>
<line x1="243" y1="552.8" x2="243" y2="558.4" stroke="#111" stroke-width="1.4" />
<line x1="276" y1="552.8" x2="276" y2="558.4" stroke="#111" stroke-width="1.4" />
<line x1="308.8" y1="552.8" x2="308.8" y2="558.4" stroke="#111" stroke-width="1.4" />
<line x1="341.8" y1="552.8" x2="341.8" y2="558.4" stroke="#111" stroke-width="1.4" />
<line x1="374.5" y1="552.8" x2="374.5" y2="558.4" stroke="#111" stroke-width="1.4" />
<line x1="407.5" y1="552.8" x2="407.5" y2="558.4" stroke="#111" stroke-width="1.4" />
<line x1="440.3" y1="552.8" x2="440.3" y2="558.4" stroke="#111" stroke-width="1.4" />
<line x1="473.3" y1="552.8" x2="473.3" y2="558.4" stroke="#111" stroke-width="1.4" />
<line x1="291.7" y1="358" x2="291.7" y2="552.8" stroke="#5a5a5a" stroke-width="1.0" stroke-dasharray="1.4 1.1"/>
<line x1="358.1" y1="358" x2="358.1" y2="552.8" stroke="#111" stroke-width="1.6" />
<line x1="422.8" y1="358" x2="422.8" y2="552.8" stroke="#5a5a5a" stroke-width="1.0" stroke-dasharray="1.4 1.1"/>
<line x1="243" y1="429" x2="243" y2="427.2" stroke="#111" stroke-width="1.3" />
<line x1="237.5" y1="427.2" x2="248.5" y2="427.2" stroke="#111" stroke-width="1.3" />
<rect x="232.25" y="429" width="21.5" height="6.600000000000023" fill="#000080" stroke="#111" stroke-width="1.4"/>
<line x1="276" y1="502.4" x2="276" y2="505" stroke="#777" stroke-width="1.3" />
<line x1="270.5" y1="505" x2="281.5" y2="505" stroke="#777" stroke-width="1.3" />
<clipPath id="cl10"><rect x="265.25" y="435.6" width="21.5" height="66.79999999999995"/></clipPath>
<rect x="265.25" y="435.6" width="21.5" height="66.79999999999995" fill="#00005a"/>
<path d="M194.45 435.60L261.25 502.40M198.45 435.60L265.25 502.40M202.45 435.60L269.25 502.40M206.45 435.60L273.25 502.40M210.45 435.60L277.25 502.40M214.45 435.60L281.25 502.40M218.45 435.60L285.25 502.40M222.45 435.60L289.25 502.40M226.45 435.60L293.25 502.40M230.45 435.60L297.25 502.40M234.45 435.60L301.25 502.40M238.45 435.60L305.25 502.40M242.45 435.60L309.25 502.40M246.45 435.60L313.25 502.40M250.45 435.60L317.25 502.40M254.45 435.60L321.25 502.40M258.45 435.60L325.25 502.40M262.45 435.60L329.25 502.40M266.45 435.60L333.25 502.40M270.45 435.60L337.25 502.40M274.45 435.60L341.25 502.40M278.45 435.60L345.25 502.40M282.45 435.60L349.25 502.40M286.45 435.60L353.25 502.40M290.45 435.60L357.25 502.40" stroke="#6a6ab4" stroke-width="1.7" clip-path="url(#cl10)"/>
<rect x="265.25" y="435.6" width="21.5" height="66.79999999999995" fill="none" stroke="#7a7a7a" stroke-width="1.4"/>
<line x1="308.8" y1="428.9" x2="308.8" y2="428.0" stroke="#111" stroke-width="1.3" />
<line x1="303.3" y1="428.0" x2="314.3" y2="428.0" stroke="#111" stroke-width="1.3" />
<rect x="298.05" y="428.9" width="21.5" height="6.7000000000000455" fill="#DD4A68" stroke="#111" stroke-width="1.4"/>
<line x1="341.8" y1="430.7" x2="341.8" y2="430.0" stroke="#777" stroke-width="1.3" />
<line x1="336.3" y1="430.0" x2="347.3" y2="430.0" stroke="#777" stroke-width="1.3" />
<clipPath id="cl11"><rect x="331.05" y="430.7" width="21.5" height="4.900000000000034"/></clipPath>
<rect x="331.05" y="430.7" width="21.5" height="4.900000000000034" fill="#D04666"/>
<path d="M321.95 430.70L326.85 435.60M326.15 430.70L331.05 435.60M330.35 430.70L335.25 435.60M334.55 430.70L339.45 435.60M338.75 430.70L343.65 435.60M342.95 430.70L347.85 435.60M347.15 430.70L352.05 435.60M351.35 430.70L356.25 435.60M355.55 430.70L360.45 435.60" stroke="#8c4256" stroke-width="1.7" clip-path="url(#cl11)"/>
<rect x="331.05" y="430.7" width="21.5" height="4.900000000000034" fill="none" stroke="#7a7a7a" stroke-width="1.4"/>
<line x1="374.5" y1="428.9" x2="374.5" y2="427.2" stroke="#111" stroke-width="1.3" />
<line x1="369.0" y1="427.2" x2="380.0" y2="427.2" stroke="#111" stroke-width="1.3" />
<rect x="363.75" y="428.9" width="21.5" height="6.7000000000000455" fill="#000080" stroke="#111" stroke-width="1.4"/>
<line x1="407.5" y1="455.8" x2="407.5" y2="460" stroke="#777" stroke-width="1.3" />
<line x1="402.0" y1="460" x2="413.0" y2="460" stroke="#777" stroke-width="1.3" />
<clipPath id="cl12"><rect x="396.75" y="435.6" width="21.5" height="20.19999999999999"/></clipPath>
<rect x="396.75" y="435.6" width="21.5" height="20.19999999999999" fill="#00005a"/>
<path d="M372.55 435.60L392.75 455.80M376.55 435.60L396.75 455.80M380.55 435.60L400.75 455.80M384.55 435.60L404.75 455.80M388.55 435.60L408.75 455.80M392.55 435.60L412.75 455.80M396.55 435.60L416.75 455.80M400.55 435.60L420.75 455.80M404.55 435.60L424.75 455.80M408.55 435.60L428.75 455.80M412.55 435.60L432.75 455.80M416.55 435.60L436.75 455.80M420.55 435.60L440.75 455.80" stroke="#6a6ab4" stroke-width="1.7" clip-path="url(#cl12)"/>
<rect x="396.75" y="435.6" width="21.5" height="20.19999999999999" fill="none" stroke="#7a7a7a" stroke-width="1.4"/>
<line x1="440.3" y1="429.2" x2="440.3" y2="428.2" stroke="#111" stroke-width="1.3" />
<line x1="434.8" y1="428.2" x2="445.8" y2="428.2" stroke="#111" stroke-width="1.3" />
<rect x="429.55" y="429.2" width="21.5" height="6.400000000000034" fill="#DD4A68" stroke="#111" stroke-width="1.4"/>
<line x1="473.3" y1="426.6" x2="473.3" y2="422.9" stroke="#777" stroke-width="1.3" />
<line x1="467.8" y1="422.9" x2="478.8" y2="422.9" stroke="#777" stroke-width="1.3" />
<clipPath id="cl13"><rect x="462.55" y="426.6" width="21.5" height="9.0"/></clipPath>
<rect x="462.55" y="426.6" width="21.5" height="9.0" fill="#D04666"/>
<path d="M449.35 426.60L458.35 435.60M453.55 426.60L462.55 435.60M457.75 426.60L466.75 435.60M461.95 426.60L470.95 435.60M466.15 426.60L475.15 435.60M470.35 426.60L479.35 435.60M474.55 426.60L483.55 435.60M478.75 426.60L487.75 435.60M482.95 426.60L491.95 435.60M487.15 426.60L496.15 435.60" stroke="#8c4256" stroke-width="1.7" clip-path="url(#cl13)"/>
<rect x="462.55" y="426.6" width="21.5" height="9.0" fill="none" stroke="#7a7a7a" stroke-width="1.4"/>
<line x1="242.4" y1="365.9" x2="274" y2="365.9" stroke="#111" stroke-width="1.6" />
<path d="M248.60 355.45L248.60 361.15M251.07 356.87L246.13 359.72M251.07 359.72L246.13 356.87" stroke="#111" stroke-width="1.55" stroke-linecap="butt" fill="none"/><circle cx="248.60" cy="358.30" r="1.2" fill="#111"/>
<path d="M255.00 355.45L255.00 361.15M257.47 356.87L252.53 359.72M257.47 359.72L252.53 356.87" stroke="#111" stroke-width="1.55" stroke-linecap="butt" fill="none"/><circle cx="255.00" cy="358.30" r="1.2" fill="#111"/>
<path d="M261.40 355.45L261.40 361.15M263.87 356.87L258.93 359.72M263.87 359.72L258.93 356.87" stroke="#111" stroke-width="1.55" stroke-linecap="butt" fill="none"/><circle cx="261.40" cy="358.30" r="1.2" fill="#111"/>
<path d="M267.80 355.45L267.80 361.15M270.27 356.87L265.33 359.72M270.27 359.72L265.33 356.87" stroke="#111" stroke-width="1.55" stroke-linecap="butt" fill="none"/><circle cx="267.80" cy="358.30" r="1.2" fill="#111"/>
<line x1="301" y1="365.9" x2="331.8" y2="365.9" stroke="#111" stroke-width="1.6" />
<path d="M313.20 355.45L313.20 361.15M315.67 356.87L310.73 359.72M315.67 359.72L310.73 356.87" stroke="#111" stroke-width="1.55" stroke-linecap="butt" fill="none"/><circle cx="313.20" cy="358.30" r="1.2" fill="#111"/>
<path d="M319.60 355.45L319.60 361.15M322.07 356.87L317.13 359.72M322.07 359.72L317.13 356.87" stroke="#111" stroke-width="1.55" stroke-linecap="butt" fill="none"/><circle cx="319.60" cy="358.30" r="1.2" fill="#111"/>
<line x1="374.9" y1="365.9" x2="406.9" y2="365.9" stroke="#111" stroke-width="1.6" />
<path d="M384.50 355.45L384.50 361.15M386.97 356.87L382.03 359.72M386.97 359.72L382.03 356.87" stroke="#111" stroke-width="1.55" stroke-linecap="butt" fill="none"/><circle cx="384.50" cy="358.30" r="1.2" fill="#111"/>
<path d="M390.90 355.45L390.90 361.15M393.37 356.87L388.43 359.72M393.37 359.72L388.43 356.87" stroke="#111" stroke-width="1.55" stroke-linecap="butt" fill="none"/><circle cx="390.90" cy="358.30" r="1.2" fill="#111"/>
<path d="M397.30 355.45L397.30 361.15M399.77 356.87L394.83 359.72M399.77 359.72L394.83 356.87" stroke="#111" stroke-width="1.55" stroke-linecap="butt" fill="none"/><circle cx="397.30" cy="358.30" r="1.2" fill="#111"/>
<line x1="439.9" y1="366" x2="471.9" y2="366" stroke="#111" stroke-width="1.6" />
<text x="455.9" y="361" font-size="8.5" font-weight="normal" text-anchor="middle" fill="#1a1a1a" >ns</text>
<text x="246.9" y="423.4" font-size="12.8" fill="#1a1a1a" transform="rotate(-90 246.9 423.4)">1.0082</text>
<text x="279.9" y="551.4" font-size="12.8" fill="#1a1a1a" transform="rotate(-90 279.9 551.4)">-9.7078</text>
<text x="312.7" y="426.2" font-size="12.8" fill="#1a1a1a" transform="rotate(-90 312.7 426.2)">1.0010</text>
<text x="345.7" y="427.2" font-size="12.8" fill="#1a1a1a" transform="rotate(-90 345.7 427.2)">0.7466</text>
<text x="378.4" y="423.4" font-size="12.8" fill="#1a1a1a" transform="rotate(-90 378.4 423.4)">1.0065</text>
<text x="411.4" y="506.2" font-size="12.8" fill="#1a1a1a" transform="rotate(-90 411.4 506.2)">-3.0485</text>
<text x="444.2" y="425.0" font-size="12.8" fill="#1a1a1a" transform="rotate(-90 444.2 425.0)">1.0023</text>
<text x="477.2" y="420.5" font-size="12.8" fill="#1a1a1a" transform="rotate(-90 477.2 420.5)">1.3235</text>
<text x="243" y="571.6" font-size="12.8" font-weight="bold" text-anchor="middle" fill="#1a1a1a" >EX</text>
<text x="276" y="571.6" font-size="12.8" font-weight="bold" text-anchor="middle" fill="#1a1a1a" >ST</text>
<text x="308.8" y="571.6" font-size="12.8" font-weight="bold" text-anchor="middle" fill="#1a1a1a" >EX</text>
<text x="341.8" y="571.6" font-size="12.8" font-weight="bold" text-anchor="middle" fill="#1a1a1a" >ST</text>
<text x="374.5" y="571.6" font-size="12.8" font-weight="bold" text-anchor="middle" fill="#1a1a1a" >EX</text>
<text x="407.5" y="571.6" font-size="12.8" font-weight="bold" text-anchor="middle" fill="#1a1a1a" >ST</text>
<text x="440.3" y="571.6" font-size="12.8" font-weight="bold" text-anchor="middle" fill="#1a1a1a" >EX</text>
<text x="473.3" y="571.6" font-size="12.8" font-weight="bold" text-anchor="middle" fill="#1a1a1a" >ST</text>
<rect x="234.2" y="576.5" width="48.60000000000002" height="18.0" fill="#fff" stroke="#2a2a2a" stroke-width="1.2"/>
<text x="258.5" y="589.5" font-size="11.6" font-weight="normal" text-anchor="middle" fill="#1a1a1a" >Δ5' UTR</text>
<rect x="300.9" y="576.5" width="48.10000000000002" height="18.0" fill="#fff" stroke="#2a2a2a" stroke-width="1.2"/>
<text x="324.95" y="588.9" font-size="11.6" font-weight="normal" text-anchor="middle" fill="#1a1a1a" >WT</text>
<rect x="366" y="576.5" width="48.89999999999998" height="18.0" fill="#fff" stroke="#2a2a2a" stroke-width="1.2"/>
<text x="390.45" y="588.9" font-size="11.6" font-weight="normal" text-anchor="middle" fill="#1a1a1a" >WT</text>
<rect x="431.6" y="576.5" width="47.5" height="18.0" fill="#fff" stroke="#2a2a2a" stroke-width="1.2"/>
<text x="455.35" y="589.5" font-size="11.6" font-weight="normal" text-anchor="middle" fill="#1a1a1a" >Δ5' UTR</text>
</svg></body></html>
